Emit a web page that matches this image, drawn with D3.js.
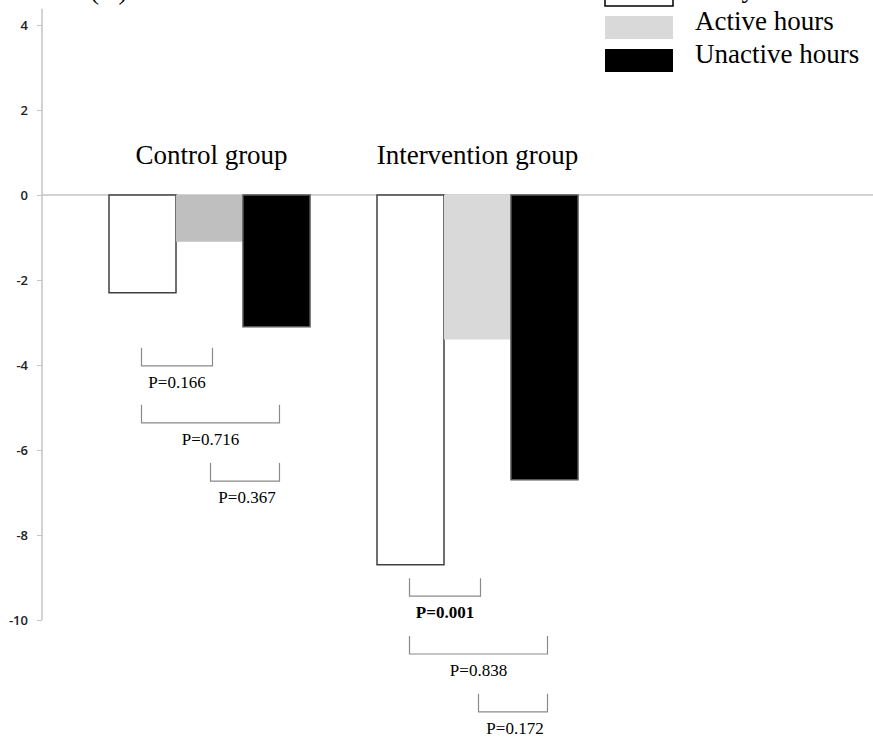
<!DOCTYPE html>
<html>
<head>
<meta charset="utf-8">
<script src="https://cdn.jsdelivr.net/npm/d3@7"></script>
<style>
  body { margin: 0; background: #fff; }
  svg { display: block; }
</style>
</head>
<body>
<svg id="chart"></svg>
<script>
// values
const groups = ["Control group", "Intervention group"];
const series = ["Daily", "Active hours", "Unactive hours"];
const controlValues = [-2.3, -1.1, -3.1];
const interventionValues = [-8.7, -3.4, -6.7];
const yTicks = [4, 2, 0, -2, -4, -6, -8, -10];

// p-value brackets: group, from series, to series, level, label, bold
const pGroup = [0, 0, 0, 1, 1, 1];
const pFrom = [0, 0, 1, 0, 0, 1];
const pTo = [1, 2, 2, 1, 2, 2];
const pLevel = [-4.02, -5.36, -6.73, -9.44, -10.8, -12.16];
const pLabels = ["P=0.166", "P=0.716", "P=0.367", "P=0.001", "P=0.838", "P=0.172"];
const pBold = [false, false, false, true, false, false];

const fullWidth = 873;
const fullHeight = 737;

const fills = {
  0: ["#ffffff", "#bfbfbf", "#000000"],
  1: ["#ffffff", "#d9d9d9", "#000000"]
};
const legendFills = ["#ffffff", "#d9d9d9", "#000000"];

const svg = d3.select('#chart')
  .attr('width', fullWidth)
  .attr('height', fullHeight);

const yScale = d3.scaleLinear().domain([-10, 4]).range([620, 25]);
const xGroup = d3.scaleBand().domain(groups).range([42, 645])
  .paddingInner(0.25).paddingOuter(0.25);
const xSeries = d3.scaleBand().domain(series).range([0, xGroup.bandwidth()]);

const serif = "'Liberation Serif', 'Times New Roman', serif";

// y axis
const yAxis = svg.append('g')
  .attr('transform', 'translate(42,0)')
  .call(d3.axisLeft(yScale).tickValues(yTicks).tickSize(5).tickSizeOuter(0)
    .tickPadding(9).tickFormat(d => String(d)));
yAxis.select('.domain').remove();
yAxis.append('line')
  .attr('x1', 0).attr('x2', 0)
  .attr('y1', yScale(4.38)).attr('y2', yScale(-10))
  .attr('stroke', '#c4c4c4').attr('stroke-width', 1.5);
yAxis.selectAll('.tick line').attr('stroke', '#c4c4c4');
yAxis.selectAll('.tick text')
  .attr('fill', '#222')
  .style('font-family', "'Open Sans', 'Liberation Sans', sans-serif")
  .style('font-size', '13px')
  .style('font-weight', '600');

// zero line
svg.append('line')
  .attr('x1', 42).attr('x2', fullWidth)
  .attr('y1', yScale(0)).attr('y2', yScale(0))
  .attr('stroke', '#c4c4c4').attr('stroke-width', 1.5);

// bars
const allValues = [controlValues, interventionValues];
allValues.forEach((vals, gi) => {
  const g = svg.append('g').attr('transform', 'translate(' + xGroup(groups[gi]) + ',0)');
  g.selectAll('rect')
    .data(vals)
    .enter().append('rect')
      .attr('x', (d, i) => xSeries(series[i]))
      .attr('y', d => yScale(Math.max(0, d)))
      .attr('width', xSeries.bandwidth())
      .attr('height', d => Math.abs(yScale(d) - yScale(0)))
      .attr('fill', (d, i) => fills[gi][i])
      .attr('stroke', (d, i) => i === 0 ? '#404040' : (i === 1 ? 'none' : '#555'))
      .attr('stroke-width', 1.5);

  g.append('text')
    .attr('x', xGroup.bandwidth() / 2 + (gi === 0 ? 2 : 0))
    .attr('y', 164)
    .attr('text-anchor', 'middle')
    .style('font-family', serif)
    .style('font-size', '27px')
    .text(groups[gi]);
});

// p-value brackets
pLabels.forEach((label, k) => {
  const gx = xGroup(groups[pGroup[k]]);
  const x1 = gx + xSeries(series[pFrom[k]]) + xSeries.bandwidth() / 2 + (pFrom[k] === 1 ? 1 : -1);
  const x2 = gx + xSeries(series[pTo[k]]) + xSeries.bandwidth() / 2 + 3;
  const yb = yScale(pLevel[k]);
  svg.append('path')
    .attr('d', `M${x1},${yb - 18}V${yb}H${x2}V${yb - 18}`)
    .attr('fill', 'none')
    .attr('stroke', '#8a8a8a')
    .attr('stroke-width', 1.2);
  svg.append('text')
    .attr('x', (x1 + x2) / 2 + (k % 3 === 2 ? 2 : 0))
    .attr('y', yb + 22)
    .attr('text-anchor', 'middle')
    .style('font-family', serif)
    .style('font-size', '17px')
    .style('font-weight', pBold[k] ? 'bold' : 'normal')
    .text(label);
});

// legend
const legend = svg.append('g').attr('transform', 'translate(605,-17)');
series.forEach((s, i) => {
  legend.append('rect')
    .attr('x', 0).attr('y', i * 33)
    .attr('width', 68).attr('height', 23)
    .attr('fill', legendFills[i])
    .attr('stroke', i === 0 ? '#000' : 'none')
    .attr('stroke-width', 1.5);
  legend.append('text')
    .attr('x', 90).attr('y', i * 33 + 14)
    .style('font-family', serif)
    .style('font-size', '27px')
    .text(s);
});

// panel label (cropped at top)
svg.append('text')
  .attr('x', 90).attr('y', -1)
  .style('font-family', serif)
  .style('font-size', '27px')
  .text('(A)');
</script>
</body>
</html>
